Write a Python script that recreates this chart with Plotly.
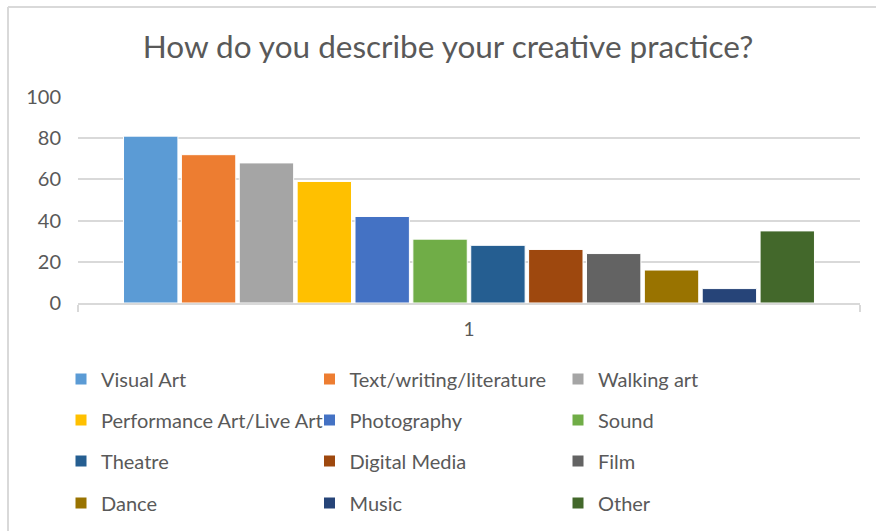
import plotly.graph_objects as go

# Survey responses: one category, one bar per practice
category = ["1"]
practices = [
    "Visual Art", "Text/writing/literature", "Walking art",
    "Performance Art/Live Art", "Photography", "Sound",
    "Theatre", "Digital Media", "Film",
    "Dance", "Music", "Other",
]
counts = [81, 72, 68, 59, 42, 31, 28, 26, 24, 16, 7, 35]
colors = [
    "#5B9BD5", "#ED7D31", "#A5A5A5",
    "#FFC000", "#4472C4", "#70AD47",
    "#255E91", "#9E480E", "#636363",
    "#997300", "#264478", "#43682B",
]
y_ticks = [0, 20, 40, 60, 80, 100]

W, H = 876, 531
PL, PR, PT, PB = 78, 16, 97, 228          # plot-area margins (px)
plot_w = W - PL - PR
plot_h = H - PT - PB
FONT = "Lato"
GREY_TXT = "#595959"
GREY_LN = "#D9D9D9"


def px_x(p):
    return (p - PL) / plot_w


def px_y(p):
    return (H - PB - p) / plot_h


legend_names = ["legend", "legend2", "legend3", "legend4"]

fig = go.Figure()
for i, (name, val, col) in enumerate(zip(practices, counts, colors)):
    fig.add_trace(go.Bar(
        x=category, y=[val], name=name,
        marker=dict(color=col, line=dict(color="white", width=1)),
        legend=legend_names[i // 3],
        hoverinfo="name+y",
    ))

# legend: one horizontal row per legend, three entries per row
row_centers = [379, 420, 461, 503]
legend_common = dict(
    orientation="h", xanchor="left", yanchor="middle",
    xref="container", yref="container",
    entrywidth=203.5, entrywidthmode="pixels",
    font=dict(family=FONT, size=20, color=GREY_TXT),
    bgcolor="rgba(0,0,0,0)", borderwidth=0,
    itemwidth=30, traceorder="normal",
)
legend_layout = {}
for ln, yc in zip(legend_names, row_centers):
    legend_layout[ln] = dict(x=61 / W, y=1 - yc / H, **legend_common)

fig.update_layout(
    width=W, height=H,
    margin=dict(l=PL, r=PR, t=PT, b=PB, autoexpand=False),
    paper_bgcolor="white", plot_bgcolor="white",
    barmode="group", bargap=0.112, bargroupgap=0.06,
    showlegend=True,
    title=dict(
        text="How do you describe your creative practice?",
        x=448 / W, xref="container", xanchor="center",
        y=1 - 47 / H, yref="container", yanchor="middle",
        font=dict(family=FONT, size=31.5, color=GREY_TXT),
    ),
    xaxis=dict(
        type="category", range=[-0.5, 0.5],
        showline=True, linecolor=GREY_LN, linewidth=2,
        ticks="outside", tickson="boundaries", ticklen=7,
        tickcolor=GREY_LN, tickwidth=2,
        tickfont=dict(family=FONT, size=19, color=GREY_TXT),
        ticklabelstandoff=8,
        showgrid=False, zeroline=False,
    ),
    yaxis=dict(
        range=[0, 100], tickvals=y_ticks,
        showgrid=True, gridcolor=GREY_LN, gridwidth=2,
        zeroline=False, showline=False, ticks="",
        tickfont=dict(family=FONT, size=20, color=GREY_TXT),
        ticklabelstandoff=16,
    ),
    shapes=[
        # chart-area border (left and top edges)
        dict(type="line", xref="paper", yref="paper",
             x0=px_x(8), x1=px_x(8), y0=px_y(7), y1=px_y(H + 5),
             line=dict(color=GREY_LN, width=2), layer="above"),
        dict(type="line", xref="paper", yref="paper",
             x0=px_x(8), x1=px_x(W + 5), y0=px_y(7), y1=px_y(7),
             line=dict(color=GREY_LN, width=2), layer="above"),
    ],
    **legend_layout,
)

fig.write_html("out.html")
